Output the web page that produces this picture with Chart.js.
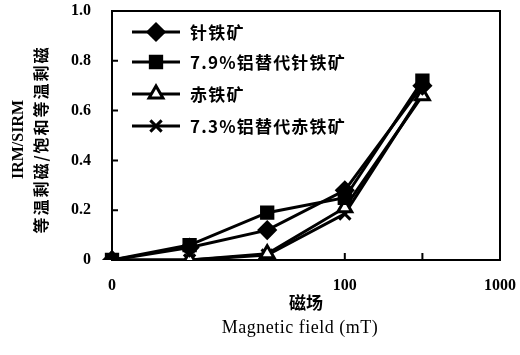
<!DOCTYPE html>
<html>
<head>
<meta charset="utf-8">
<script src="https://cdn.jsdelivr.net/npm/chart.js@4/dist/chart.umd.min.js"></script>
<style>
  body { margin: 0; background: #fff; }
  canvas { display: block; }
</style>
</head>
<body>
<canvas id="chart" width="520" height="355"></canvas>
<script>
// field categories (mT); only some get a label, like the original
const fieldLabels = ["0", "10", "30", "100", "300", "1000"];
const shownTicks = ["0", "100", "1000"];

const seriesNames = ["针铁矿", "7.9%铝替代针铁矿", "赤铁矿", "7.3%铝替代赤铁矿"];
const goethite = [0, 0.05, 0.12, 0.28, 0.70];
const alGoethite = [0, 0.06, 0.19, 0.25, 0.72];
const hematite = [0, 0, 0.025, 0.21, 0.66];
const alHematite = [0, 0, 0.02, 0.185, 0.67];

const yTicks = [0, 0.2, 0.4, 0.6, 0.8, 1.0];

const serif = "'Liberation Serif', 'Noto Sans CJK SC', serif";
const cjk = "'Noto Sans CJK SC', sans-serif";

function ds(label, data, style, radius, fill) {
    return {
        label: label,
        data: data,
        borderColor: "#000",
        borderWidth: 3,
        pointStyle: style,
        pointRadius: radius,
        pointHoverRadius: radius,
        pointBackgroundColor: fill,
        pointBorderColor: "#000",
        pointBorderWidth: 3,
        tension: 0,
        fill: false
    };
}

// frame box and inward tick marks
const framePlugin = {
    id: "frame",
    beforeDatasetsDraw(chart) {
        const { ctx, chartArea: a, scales } = chart;
        ctx.save();
        ctx.strokeStyle = "#000";
        ctx.lineWidth = 2;
        ctx.strokeRect(a.left, a.top, a.right - a.left, a.bottom - a.top);
        ctx.beginPath();
        yTicks.forEach(v => {
            let y = scales.y.getPixelForValue(v);
            ctx.moveTo(a.left, y);
            ctx.lineTo(a.left + 6, y);
        });
        fieldLabels.forEach((f, i) => {
            let x = scales.x.getPixelForValue(i);
            ctx.moveTo(x, a.bottom);
            ctx.lineTo(x, a.bottom - 7);
        });
        ctx.stroke();
        ctx.restore();
    }
};

// legend inside the plot area + axis titles
const textPlugin = {
    id: "texts",
    afterDraw(chart) {
        const { ctx, chartArea: a } = chart;
        ctx.save();
        ctx.fillStyle = "#000";

        // legend
        const rows = [32, 62, 94, 126];
        chart.data.datasets.forEach((d, i) => {
            let y = rows[i];
            ctx.strokeStyle = "#000";
            ctx.lineWidth = 3;
            ctx.beginPath();
            ctx.moveTo(132, y);
            ctx.lineTo(180, y);
            ctx.stroke();
            ctx.fillStyle = d.pointBackgroundColor;
            if (Chart.helpers && Chart.helpers.drawPoint) {
                Chart.helpers.drawPoint(ctx, {
                    pointStyle: d.pointStyle,
                    radius: d.pointRadius,
                    rotation: 0,
                    borderWidth: 3
                }, 156, y);
            }
            ctx.fillStyle = "#000";
            ctx.font = "bold 17px " + cjk;
            ctx.textAlign = "left";
            ctx.textBaseline = "middle";
            ctx.letterSpacing = "1.2px";
            ctx.fillText(d.label, 190, y + 1);
        });

        // y title
        let cy = (a.top + a.bottom) / 2 + 4;
        ctx.letterSpacing = "0px";
        ctx.textAlign = "center";
        ctx.textBaseline = "middle";
        ctx.save();
        ctx.translate(19, cy);
        ctx.rotate(-Math.PI / 2);
        ctx.font = "bold 16px " + serif;
        ctx.fillText("IRM/SIRM", 0, 0);
        ctx.restore();
        ctx.save();
        ctx.translate(41, cy);
        ctx.rotate(-Math.PI / 2);
        ctx.font = "bold 16px " + cjk;
        ctx.letterSpacing = "2px";
        ctx.fillText("等温剩磁/饱和等温剩磁", 0, 0);
        ctx.restore();

        // x titles
        let cx = (a.left + a.right) / 2;
        ctx.font = "bold 17px " + cjk;
        ctx.fillText("磁场", cx, 303);
        ctx.font = "18px " + serif;
        ctx.letterSpacing = "0.5px";
        ctx.fillText("Magnetic field (mT)", cx - 6, 328);
        ctx.restore();
    }
};

new Chart(document.getElementById("chart"), {
    type: "line",
    data: {
        labels: fieldLabels,
        datasets: [
            ds(seriesNames[0], goethite, "rectRot", 8, "#000"),
            ds(seriesNames[1], alGoethite, "rect", 8, "#000"),
            ds(seriesNames[2], hematite, "triangle", 8, "#fff"),
            ds(seriesNames[3], alHematite, "crossRot", 8, "#000")
        ]
    },
    options: {
        responsive: false,
        animation: false,
        devicePixelRatio: 1,
        layout: { padding: { top: 8, right: 20, left: 0, bottom: 0 } },
        plugins: {
            legend: { display: false },
            tooltip: { enabled: false }
        },
        scales: {
            x: {
                type: "category",
                offset: false,
                grid: { display: false, drawTicks: false },
                border: { display: true, color: "#000", width: 2 },
                ticks: {
                    autoSkip: false,
                    maxRotation: 0,
                    padding: 16,
                    color: "#000",
                    font: { family: serif, size: 16, weight: "bold" },
                    callback: (v, i) => shownTicks.includes(fieldLabels[i]) ? fieldLabels[i] : ""
                },
                afterFit: s => { s.height = 95; s.paddingLeft = 0; s.paddingRight = 0; }
            },
            y: {
                min: 0,
                max: 1,
                grid: { display: false, drawTicks: false },
                border: { display: true, color: "#000", width: 2 },
                ticks: {
                    stepSize: 0.2,
                    padding: 21,
                    color: "#000",
                    font: { family: serif, size: 16, weight: "bold" },
                    callback: v => v === 0 ? "0" : v.toFixed(1)
                },
                afterFit: s => { s.width = 112; s.paddingTop = 0; s.paddingBottom = 0; }
            }
        }
    },
    plugins: [framePlugin, textPlugin]
});
</script>
</body>
</html>
